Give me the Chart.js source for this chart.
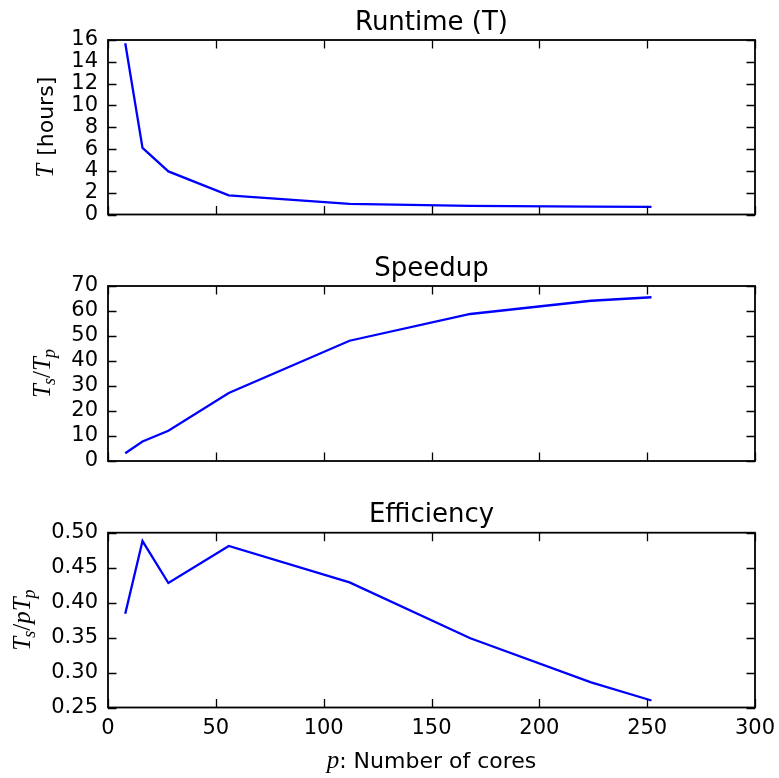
<!DOCTYPE html>
<html><head><meta charset="utf-8">
<script src="https://cdn.jsdelivr.net/npm/chart.js@4"></script>
<style>
html,body{margin:0;padding:0;background:#fff;}
body{width:779px;height:778px;position:relative;overflow:hidden;}
canvas{position:absolute;left:0;}
</style></head><body>
<canvas id="c1" width="779" height="232" style="top:0px"></canvas>
<canvas id="c2" width="779" height="235" style="top:240px"></canvas>
<canvas id="c3" width="779" height="291" style="top:487px"></canvas>
<script>
// ---- data ----
const cores = [8, 16, 28, 56, 112, 168, 224, 252];
const runtimeHours = [15.7, 6.1, 3.95, 1.75, 0.97, 0.8, 0.72, 0.7];
const speedup = [3.1, 7.8, 12.1, 27.2, 48.1, 58.8, 64.1, 65.5];
const efficiency = [0.384, 0.488, 0.428, 0.481, 0.429, 0.349, 0.286, 0.26];

const xTickValues = [0, 50, 100, 150, 200, 250, 300];
const runtimeTicks = [0, 2, 4, 6, 8, 10, 12, 14, 16];
const speedupTicks = [0, 10, 20, 30, 40, 50, 60, 70];
const efficiencyTicks = [0.25, 0.30, 0.35, 0.40, 0.45, 0.50];

const titles = ['Runtime (T)', 'Speedup', 'Efficiency'];

const SANS = "'DejaVu Sans'";
const MATH = "'Liberation Serif'";
const mathFont = "italic 25px " + MATH;
const subFont = "italic 18px " + MATH;
const labelFont = "22px " + SANS;
const titleFont = "26px " + SANS;

function drawRich(ctx, segs, x, y, rotate) {
  ctx.save();
  ctx.translate(x, y);
  if (rotate) ctx.rotate(-Math.PI / 2);
  ctx.textBaseline = 'alphabetic';
  ctx.textAlign = 'left';
  ctx.fillStyle = '#000';
  const widths = segs.map(s => { ctx.font = s.font; return ctx.measureText(s.text).width + (s.kern || 0); });
  const total = widths.reduce((a, b) => a + b, 0);
  let cx = -total / 2;
  segs.forEach((s, i) => {
    ctx.font = s.font;
    ctx.fillText(s.text, cx, s.dy || 0);
    cx += widths[i];
  });
  ctx.restore();
}

const framePlugin = {
  id: 'frame',
  afterDraw(chart, args, opts) {
    const ctx = chart.ctx;
    const a = chart.chartArea;
    const len = 8.5;
    ctx.save();
    ctx.strokeStyle = '#000';
    ctx.lineWidth = 1.3;
    ctx.beginPath();
    chart.scales.x.ticks.forEach(t => {
      const px = Math.round(chart.scales.x.getPixelForValue(t.value)) + 0.5;
      ctx.moveTo(px, a.bottom); ctx.lineTo(px, a.bottom - len);
      ctx.moveTo(px, a.top); ctx.lineTo(px, a.top + len);
    });
    chart.scales.y.ticks.forEach(t => {
      const py = Math.round(chart.scales.y.getPixelForValue(t.value)) + 0.5;
      ctx.moveTo(a.left, py); ctx.lineTo(a.left + len, py);
      ctx.moveTo(a.right, py); ctx.lineTo(a.right - len, py);
    });
    ctx.stroke();
    ctx.lineWidth = 1.8;
    ctx.strokeRect(a.left, a.top, a.right - a.left, a.bottom - a.top);
    if (opts.title) {
      ctx.font = titleFont;
      ctx.fillStyle = '#000';
      ctx.textAlign = 'center';
      ctx.textBaseline = 'alphabetic';
      ctx.fillText(opts.title, (a.left + a.right) / 2, a.top - 10.5);
    }
    if (opts.ySegs) {
      drawRich(ctx, opts.ySegs, opts.yX, (a.top + a.bottom) / 2, true);
    }
    if (opts.xSegs) {
      drawRich(ctx, opts.xSegs, (a.left + a.right) / 2, opts.xY, false);
    }
    ctx.restore();
  }
};

function makeChart(id, values, yTicks, cfg) {
  return new Chart(document.getElementById(id), {
    type: 'line',
    data: {
      datasets: [{
        data: cores.map((c, i) => ({ x: c, y: values[i] })),
        borderColor: '#0000ff',
        borderWidth: 2.3,
        pointRadius: 0,
        tension: 0,
        fill: false
      }]
    },
    options: {
      responsive: false,
      animation: false,
      layout: { padding: { left: 0, right: 24, top: cfg.top, bottom: 0 } },
      plugins: {
        legend: { display: false },
        tooltip: { enabled: false },
        title: { display: false },
        frame: { title: cfg.title, ySegs: cfg.ySegs, yX: cfg.yX, xSegs: cfg.xSegs, xY: cfg.xY }
      },
      scales: {
        x: {
          type: 'linear',
          position: 'bottom',
          min: 0, max: 300,
          afterBuildTicks: s => { s.ticks = xTickValues.map(v => ({ value: v })); },
          afterFit: s => { s.height = cfg.xHeight; s.paddingLeft = 0; s.paddingRight = 0; },
          grid: { display: false, drawTicks: false },
          border: { display: false },
          ticks: {
            display: cfg.showX,
            autoSkip: false,
            color: '#000',
            padding: 8,
            maxRotation: 0,
            font: { family: SANS, size: 21 }
          }
        },
        y: {
          type: 'linear',
          position: 'left',
          min: yTicks[0], max: yTicks[yTicks.length - 1],
          afterBuildTicks: s => { s.ticks = yTicks.map(v => ({ value: v })); },
          afterFit: s => { s.width = 108; s.paddingTop = 0; s.paddingBottom = 0; },
          grid: { display: false, drawTicks: false },
          border: { display: false },
          ticks: {
            autoSkip: false,
            color: '#000',
            padding: 10,
            font: { family: SANS, size: 21 },
            callback: cfg.fmt
          }
        }
      }
    },
    plugins: [framePlugin]
  });
}

makeChart('c1', runtimeHours, runtimeTicks, {
  title: titles[0],
  top: 40,
  xHeight: 17.5, showX: false,
  fmt: v => String(v),
  ySegs: [ { text: 'T', font: mathFont, kern: 1 }, { text: ' [hours]', font: labelFont } ],
  yX: 53
});

makeChart('c2', speedup, speedupTicks, {
  title: titles[1],
  top: 46,
  xHeight: 14, showX: false,
  fmt: v => String(v),
  ySegs: [
    { text: 'T', font: mathFont, kern: -1 },
    { text: 's', font: subFont, dy: 5 },
    { text: '/', font: "25px " + MATH },
    { text: 'T', font: mathFont, kern: -1 },
    { text: 'p', font: subFont, dy: 5 }
  ],
  yX: 50
});

makeChart('c3', efficiency, efficiencyTicks, {
  title: titles[2],
  top: 45.7,
  xHeight: 70.5, showX: true,
  fmt: v => Number(v).toFixed(2),
  ySegs: [
    { text: 'T', font: mathFont, kern: -1 },
    { text: 's', font: subFont, dy: 5 },
    { text: '/', font: "25px " + MATH },
    { text: 'p', font: mathFont },
    { text: 'T', font: mathFont, kern: -1 },
    { text: 'p', font: subFont, dy: 5 }
  ],
  yX: 30,
  xSegs: [ { text: 'p', font: mathFont, kern: 0 }, { text: ': Number of cores', font: labelFont } ],
  xY: 281
});
</script>
</body></html>
